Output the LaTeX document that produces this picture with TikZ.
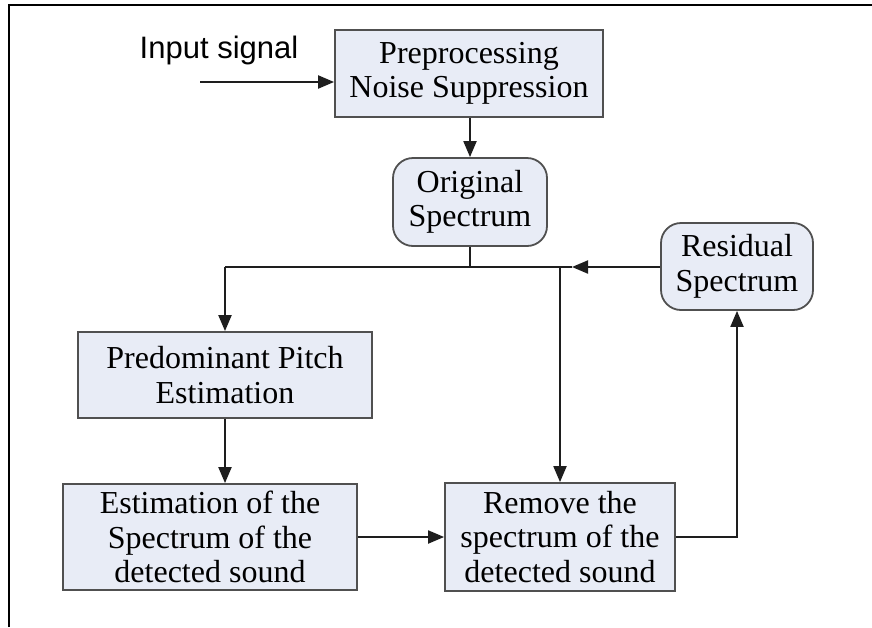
\documentclass[tikz,border=0pt]{standalone}
\usepackage{fontspec}
\setmainfont{Liberation Serif}
\setsansfont{Liberation Sans}
\usetikzlibrary{arrows.meta}
\definecolor{boxfill}{HTML}{E8ECF6}
\definecolor{boxline}{HTML}{505050}
\definecolor{wire}{HTML}{1E1E1E}
\tikzset{
  blk/.style={draw=boxline, line width=1.8pt, fill=boxfill, inner sep=0pt,
    align=center, font=\fontsize{32}{34.5}\selectfont},
  rblk/.style={blk, rounded corners=20pt},
  wireline/.style={draw=wire, line width=2pt},
  arr/.style={wireline, -{Triangle[length=16pt,width=13pt]}},
}
\begin{document}
\begin{tikzpicture}[x=1pt,y=-1pt]
\useasboundingbox (0,0) rectangle (872,627);
% frame edges
\draw[line width=2pt] (9,627) -- (9,5) -- (872,5);

% blocks
\node[blk, minimum width=268pt, minimum height=87pt] (pre) at (469,73.5) {Preprocessing\\Noise Suppression};
\node[rblk, minimum width=154pt, minimum height=88pt] (orig) at (470,202) {Original\\Spectrum};
\node[rblk, minimum width=152pt, minimum height=87pt] (res) at (737,266.5) {Residual\\Spectrum};
\node[blk, minimum width=294pt, minimum height=86pt] (pitch) at (225,375) {Predominant Pitch\\Estimation};
\node[blk, minimum width=294pt, minimum height=106pt] (est) at (210,537) {Estimation of the\\Spectrum of the\\detected sound};
\node[blk, minimum width=230pt, minimum height=108pt] (rem) at (560,537) {Remove the\\spectrum of the\\detected sound};

% input label and arrow
\node[font=\sffamily\fontsize{31}{34}\selectfont, anchor=base] (inlbl) at (219,58) {Input signal};
\coordinate (inp) at (200,82);
\draw[arr] (inp) -- (pre.west |- inp);

% junction points on the horizontal bus
\coordinate (jL) at (pitch.north |- 0,267);
\coordinate (jO) at (orig.south |- 0,267);
\coordinate (jM) at (rem.north |- 0,267);
\coordinate (jR) at (572,267);

\draw[arr] (pre.south -| orig.north) -- (orig.north);
\draw[wireline] (orig.south) -- (jO);
\draw[arr] (res.west |- jR) -- (jR);
\draw[wireline] (jR) -- (jL);
\draw[arr] (jL) -- (pitch.north);
\draw[arr] (jM) -- (rem.north);
\draw[arr] (pitch.south) -- (pitch.south |- est.north);
\draw[arr] (est.east) -- (rem.west);
\draw[arr] (rem.east) -| (res.south);
\end{tikzpicture}
\end{document}
